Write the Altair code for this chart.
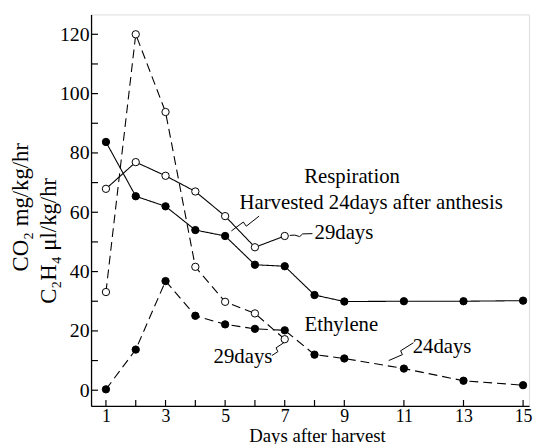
import altair as alt
import pandas as pd

# ---- data ----
days_24 = [1, 2, 3, 4, 5, 6, 7, 8, 9, 11, 13, 15]
resp_24 = [83.7, 65.4, 62.0, 54.0, 52.0, 42.3, 41.8, 32.1, 29.9, 30.0, 30.0, 30.2]
eth_24 = [0.3, 13.7, 36.8, 25.1, 22.2, 20.7, 20.2, 12.0, 10.7, 7.3, 3.2, 1.7]
days_29 = [1, 2, 3, 4, 5, 6, 7]
resp_29 = [67.9, 76.9, 72.3, 67.0, 58.7, 48.2, 52.0]
eth_29 = [33.1, 120.0, 93.8, 41.6, 29.8, 25.9, 17.2]

x_labels = [1, 3, 5, 7, 9, 11, 13, 15]
y_labels = [0, 20, 40, 60, 80, 100, 120]
y_minor = [0, 10, 20, 30, 40, 50, 60, 70, 80, 90, 100, 110, 120]

rows = []
for name, days, vals, fillc, dash in [
    ("resp24", days_24, resp_24, "black", "solid"),
    ("resp29", days_29, resp_29, "white", "solid"),
    ("eth24", days_24, eth_24, "black", "dashed"),
    ("eth29", days_29, eth_29, "white", "dashed"),
]:
    for d, v in zip(days, vals):
        rows.append({"series": name, "day": d, "value": v, "fillc": fillc, "dash": dash})
df = pd.DataFrame(rows)

W, H = 443, 396
FONT = "Liberation Serif"
xscale = alt.Scale(domain=[0.5, 15.2], nice=False, zero=False)
yscale = alt.Scale(domain=[-5.3, 126.7], nice=False, zero=False)

X = alt.X("day:Q", scale=xscale,
          axis=alt.Axis(values=x_labels, ticks=False, grid=False, title=None,
                        labelFont=FONT, labelFontSize=18, labelPadding=2,
                        domainColor="black", domainWidth=1.3, labelColor="black"))
Y = alt.Y("value:Q", scale=yscale,
          axis=alt.Axis(values=y_labels, ticks=False, grid=False, title=None,
                        labelFont=FONT, labelFontSize=20, labelPadding=2,
                        domainColor="black", domainWidth=1.3, labelColor="black"))

lines = alt.Chart(df).mark_line(color="black", strokeWidth=1.1).encode(
    x=X, y=Y, detail="series:N",
    strokeDash=alt.StrokeDash("dash:N", scale=alt.Scale(domain=["solid", "dashed"], range=[[1, 0], [9, 5]]), legend=None),
)
points = alt.Chart(df).mark_point(shape="circle", filled=True, stroke="black", strokeWidth=1, size=55, opacity=1).encode(
    x="day:Q", y="value:Q", fill=alt.Fill("fillc:N", scale=None),
)

# inward ticks
xt = alt.Chart(pd.DataFrame({"day": days_24})).mark_rule(color="black", strokeWidth=1.2).encode(
    x="day:Q", y=alt.value(H), y2=alt.value(H - 6))
yt = alt.Chart(pd.DataFrame({"value": y_minor})).mark_rule(color="black", strokeWidth=1.2).encode(
    y="value:Q", x=alt.value(0), x2=alt.value(7))

# annotations
ann = [
    ("Respiration", 9.26, 71.7, "center"),
    ("Harvested 24days after anthesis", 9.9, 63.0, "center"),
    ("29days", 8.0, 53.0, "left"),
    ("Ethylene", 8.9, 22.0, "center"),
    ("29days", 5.6, 11.3, "center"),
    ("24days", 12.28, 14.7, "center"),
]
texts = []
for t, d, v, al in ann:
    texts.append(alt.Chart(pd.DataFrame({"t": [t], "day": [d], "value": [v]})).mark_text(
        font=FONT, fontSize=21, align=al, baseline="middle", color="black"
    ).encode(x="day:Q", y="value:Q", text="t:N"))

lead = pd.DataFrame({
    "g": ["a"] * 4 + ["b"] * 5 + ["c"] * 4 + ["d"] * 4,
    "o": list(range(4)) + list(range(5)) + list(range(4)) + list(range(4)),
    "day": [6.14, 5.71, 5.61, 5.21,
            7.93, 7.60, 7.50, 7.34, 7.17,
            6.57, 6.77, 6.71, 6.97,
            11.32, 10.89, 10.95, 10.49],
    "value": [58.7, 55.3, 56.7, 53.7,
              52.8, 52.7, 51.8, 52.3, 52.2,
              11.7, 13.0, 14.3, 16.0,
              16.0, 13.3, 12.0, 10.0],
})
leaders = alt.Chart(lead).mark_line(color="black", strokeWidth=1).encode(
    x="day:Q", y="value:Q", detail="g:N", order="o:Q")

ytitle1 = alt.Chart(pd.DataFrame({"t": ["CO₂ mg/kg/hr"]})).mark_text(
    font=FONT, fontSize=23, angle=270, align="center", baseline="middle", color="black"
).encode(text="t:N", x=alt.value(-71), y=alt.value(195))
ytitle2 = alt.Chart(pd.DataFrame({"t": ["C₂H₄ μl/kg/hr"]})).mark_text(
    font=FONT, fontSize=23, angle=270, align="center", baseline="middle", color="black"
).encode(text="t:N", x=alt.value(-42), y=alt.value(229))
xtitle = alt.Chart(pd.DataFrame({"t": ["Days after harvest"]})).mark_text(
    font=FONT, fontSize=19, align="center", baseline="alphabetic", color="black"
).encode(text="t:N", x=alt.value(229), y=alt.value(432))

chart = alt.layer(lines, xt, yt, leaders, points, *texts, ytitle1, ytitle2, xtitle).properties(
    width=W, height=H,
    padding={"left": 84, "top": 4, "right": 4, "bottom": 36},
    autosize=alt.AutoSizeParams(type="none"),
).configure_view(stroke=None).configure(background="white")

chart.save("out.html", embed_options={"renderer": "svg", "actions": False})
